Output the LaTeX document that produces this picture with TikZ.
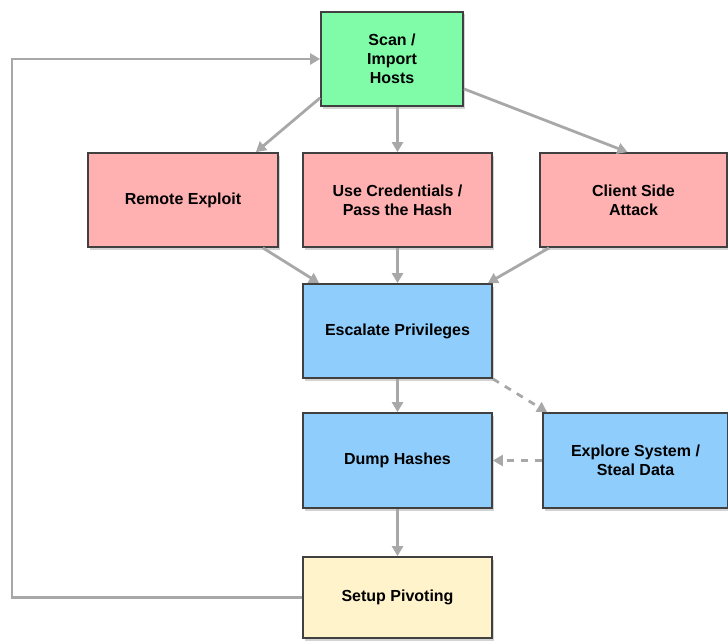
\documentclass[tikz,border=0pt]{standalone}
\usepackage{fontspec}
\setmainfont{Liberation Sans}
\usetikzlibrary{arrows.meta,shadows,calc}
\definecolor{boxgreen}{HTML}{80FCA8}
\definecolor{boxpink}{HTML}{FFB0B0}
\definecolor{boxblue}{HTML}{8ECDFC}
\definecolor{boxyellow}{HTML}{FFF3CC}
\definecolor{boxedge}{HTML}{404040}
\definecolor{arrowgray}{HTML}{A8A8A8}
\begin{document}
\begin{tikzpicture}[x=1pt,y=-1pt,
  box/.style={draw=boxedge, line width=1.8pt, align=center, inner sep=2pt,
    font=\fontsize{16}{19}\selectfont\bfseries,
    drop shadow={shadow xshift=2pt, shadow yshift=-2.5pt, opacity=0.35}},
  flow/.style={draw=arrowgray, line width=2.8pt, -{Triangle[length=10pt,width=11pt]}},
  dflow/.style={flow, dash pattern=on 7pt off 7pt}]
\useasboundingbox (0,0) rectangle (728,642);
\node[box, fill=boxgreen, minimum width=142pt, minimum height=94pt] (scan) at (392,59) {Scan /\\Import\\Hosts};
\node[box, fill=boxpink, minimum width=190pt, minimum height=94pt] (remote) at (183,200) {Remote Exploit};
\node[box, fill=boxpink, minimum width=189pt, minimum height=94pt] (cred) at (397.5,200) {Use Credentials /\\Pass the Hash};
\node[box, fill=boxpink, minimum width=187pt, minimum height=94pt] (client) at (633.5,200) {Client Side\\Attack};
\node[box, fill=boxblue, minimum width=189pt, minimum height=94pt] (esc) at (397.5,331) {Escalate Privileges};
\node[box, fill=boxblue, minimum width=189pt, minimum height=95pt] (dump) at (397.5,460.5) {Dump Hashes};
\node[box, fill=boxblue, minimum width=185pt, minimum height=95pt] (explore) at (635.5,460.5) {Explore System /\\Steal Data};
\node[box, fill=boxyellow, minimum width=189pt, minimum height=81pt] (setup) at (397.5,597.5) {Setup Pivoting};
\coordinate (loop) at (12,0);

\draw[flow] ($(scan.south west)+(0,-9)$) -- ($(remote.north east)+(-23,0)$);
\draw[flow] (scan.south -| cred.north) -- (cred.north);
\draw[flow] ($(scan.south east)+(0,-18)$) -- ($(client.north)+(-6,0)$);
\draw[flow] ($(remote.south east)+(-16,0)$) -- ($(esc.north west)+(17,0)$);
\draw[flow] (cred.south) -- (esc.north);
\draw[flow] ($(client.south west)+(10,0)$) -- ($(esc.north east)+(-5,0)$);
\draw[flow] (esc.south) -- (dump.north);
\draw[dflow] (esc.south east) -- ($(explore.north west)+(5,0)$);
\draw[dflow] (explore.west) -- (dump.east);
\draw[flow] (dump.south) -- (setup.north);
\draw[flow] (setup.west) -- (setup.west -| loop) |- (scan.west);
\end{tikzpicture}
\end{document}
